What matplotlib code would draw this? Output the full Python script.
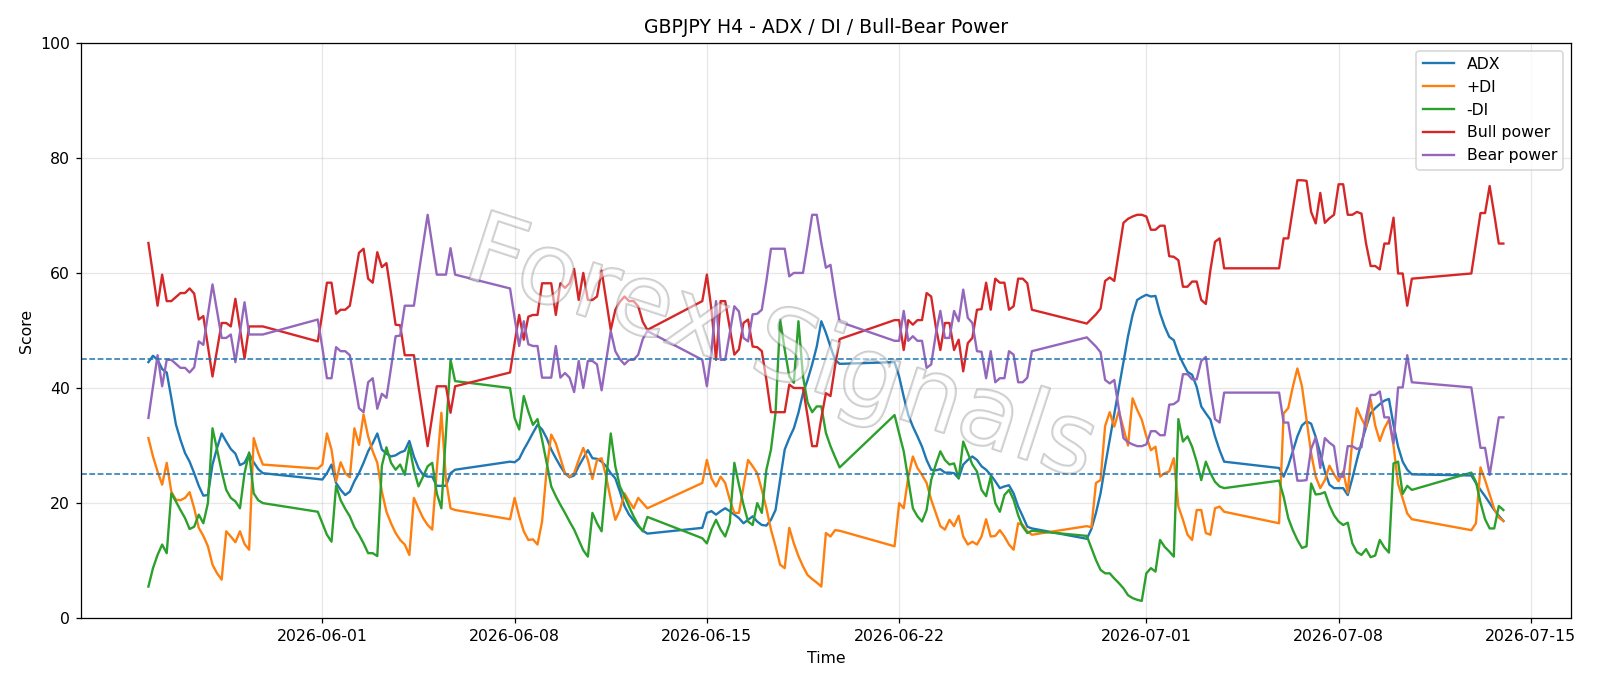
import numpy as np
import pandas as pd
import matplotlib
matplotlib.use('Agg')
import matplotlib.pyplot as plt
import matplotlib.patheffects as pe

# H4 bars, one block per trading week (straight segments = weekend gaps)
week_starts = ['2026-05-25 16:00', '2026-05-31 20:00', '2026-06-07 20:00', '2026-06-14 20:00',
               '2026-06-21 20:00', '2026-06-28 20:00', '2026-07-05 20:00', '2026-07-12 20:00']
week_bars = [26, 31, 31, 31, 31, 31, 30, 8]

adx = [
    44.5, 45.6, 44.9, 43.3, 42.7, 38.3, 33.7, 31.0, 28.7, 27.2, 25.2, 23.0, 21.3, 21.4, 26.7, 29.6, 32.1, 30.7, 29.4, 28.6, 26.6, 27.0, 28.6, 27.1, 25.9, 25.2,
    24.2, 24.1, 25.2, 26.7, 23.5, 22.3, 21.4, 22.0, 23.8, 25.2, 27.0, 29.0, 30.4, 32.1, 29.3, 28.6, 28.1, 28.3, 28.8, 29.1, 30.8, 28.1, 26.1, 24.9, 24.6, 24.6, 23.0, 23.0, 23.0, 25.2, 25.8,
    27.2, 27.1, 27.7, 29.3, 30.7, 32.2, 33.6, 32.8, 31.3, 29.3, 27.8, 26.4, 25.2, 24.5, 24.8, 26.4, 27.8, 29.2, 27.8, 27.7, 27.2, 26.4, 25.2, 24.3, 22.0, 19.5, 18.0, 17.0, 16.0, 15.2, 14.7,
    15.7, 18.3, 18.6, 18.0, 18.6, 19.1, 18.6, 18.0, 17.4, 16.5, 17.1, 17.7, 16.8, 16.2, 16.1, 17.1, 18.8, 24.1, 29.3, 31.3, 33.0, 35.7, 39.1, 41.4, 44.1, 47.2, 51.6, 49.6, 47.2, 44.9, 44.2,
    44.5, 42.0, 38.5, 35.3, 33.3, 31.6, 29.8, 27.5, 25.8, 25.7, 25.9, 25.3, 25.3, 25.2, 24.3, 26.7, 27.5, 28.1, 27.5, 26.4, 25.8, 24.9, 23.8, 22.6, 22.9, 23.1, 21.7, 19.4, 17.7, 15.9, 15.6,
    13.8, 15.5, 18.3, 21.7, 26.5, 31.0, 35.5, 40.0, 44.5, 49.0, 52.7, 55.3, 55.8, 56.2, 55.9, 56.0, 53.0, 50.7, 48.9, 48.3, 46.0, 44.3, 42.8, 42.3, 40.2, 36.8, 35.6, 34.5, 31.6, 29.2, 27.2,
    26.1, 24.6, 26.5, 29.0, 31.6, 33.5, 34.2, 33.8, 31.5, 28.6, 25.5, 23.2, 22.6, 22.6, 22.6, 21.4, 24.3, 27.5, 30.5, 33.2, 35.6, 36.5, 37.2, 37.8, 38.1, 33.6, 29.8, 27.2, 25.8, 25.0,
    24.8, 23.5, 22.3, 21.2, 20.0, 18.8, 17.8, 16.9,
]

plus_di = [
    31.3, 28.1, 25.5, 23.2, 27.0, 22.0, 20.6, 20.5, 20.9, 21.9, 19.1, 15.7, 14.3, 12.5, 9.3, 7.8, 6.7, 15.1, 14.2, 13.2, 15.1, 12.9, 11.9, 31.3, 28.7, 26.7,
    26.0, 26.7, 32.1, 29.3, 23.8, 27.1, 25.2, 24.5, 33.0, 30.1, 35.4, 31.6, 29.0, 27.0, 22.0, 18.5, 16.5, 14.8, 13.6, 12.8, 11.0, 20.9, 19.1, 17.4, 16.2, 15.4, 25.8, 35.7, 24.1, 19.1, 18.8,
    17.2, 20.9, 17.7, 15.1, 13.6, 13.7, 12.8, 16.8, 25.8, 31.9, 30.4, 27.8, 25.2, 24.6, 25.2, 27.5, 29.6, 27.5, 24.2, 27.5, 27.8, 24.6, 20.6, 17.1, 18.8, 21.7, 20.3, 19.1, 20.9, 20.0, 19.1,
    23.5, 27.5, 24.3, 22.9, 24.6, 23.5, 20.6, 18.3, 18.3, 22.9, 27.5, 26.4, 25.2, 22.3, 19.1, 15.4, 12.5, 9.3, 8.7, 15.7, 13.0, 10.8, 9.0, 7.5, 6.8, 6.2, 5.5, 14.8, 14.2, 15.3, 15.2,
    12.5, 20.0, 19.1, 24.6, 28.1, 26.1, 24.9, 23.5, 20.6, 18.3, 16.0, 15.4, 17.1, 16.0, 17.8, 14.2, 12.8, 13.3, 12.8, 14.2, 17.2, 14.2, 14.3, 15.3, 14.2, 12.8, 11.9, 16.5, 16.2, 15.1, 14.5,
    16.0, 15.8, 23.5, 24.0, 33.4, 35.8, 33.3, 36.0, 33.0, 30.0, 38.2, 36.2, 34.5, 31.6, 29.2, 29.8, 24.6, 25.2, 25.5, 27.8, 19.4, 17.1, 14.5, 13.6, 18.8, 18.8, 14.8, 14.5, 19.1, 19.4, 18.5,
    16.5, 35.6, 36.5, 40.2, 43.4, 40.3, 34.5, 28.7, 24.6, 22.6, 24.0, 26.5, 25.0, 23.8, 25.5, 21.8, 31.0, 36.5, 34.7, 33.2, 38.0, 33.5, 30.8, 33.0, 34.5, 30.0, 23.3, 20.8, 18.2, 17.2,
    15.3, 16.5, 26.2, 24.0, 21.5, 19.0, 17.5, 16.9,
]

minus_di = [
    5.5, 8.7, 11.0, 12.8, 11.3, 21.7, 20.3, 18.8, 17.4, 15.5, 15.9, 18.0, 16.5, 20.0, 33.0, 29.3, 25.5, 22.3, 20.9, 20.3, 19.1, 25.2, 28.8, 21.7, 20.5, 20.0,
    18.5, 16.5, 14.5, 13.3, 23.0, 20.5, 19.0, 17.7, 15.8, 14.5, 13.0, 11.3, 11.3, 10.8, 26.5, 29.7, 27.0, 25.8, 26.7, 24.9, 29.9, 25.8, 22.9, 24.6, 26.4, 27.0, 21.7, 19.1, 32.2, 44.9, 41.2,
    40.0, 34.8, 32.8, 38.6, 35.9, 33.6, 34.6, 31.0, 27.0, 22.9, 21.2, 19.7, 18.3, 16.8, 15.4, 13.6, 11.8, 10.7, 18.3, 16.5, 15.1, 24.1, 32.1, 26.4, 22.9, 21.2, 19.4, 17.7, 16.2, 15.1, 17.6,
    13.9, 13.0, 15.4, 17.1, 15.4, 14.2, 16.5, 27.0, 23.2, 19.7, 16.8, 16.2, 20.0, 18.3, 25.8, 29.3, 35.7, 51.9, 46.7, 42.0, 40.9, 51.6, 42.0, 37.5, 35.8, 36.8, 36.8, 32.2, 29.9, 28.0, 26.2,
    35.3, 32.1, 29.0, 24.0, 19.1, 17.7, 16.8, 18.8, 24.0, 26.7, 29.0, 27.5, 26.7, 26.9, 24.3, 30.7, 28.7, 26.7, 25.5, 22.3, 21.2, 24.6, 20.0, 18.5, 21.4, 22.3, 20.6, 17.9, 15.9, 14.8, 15.2,
    14.3, 12.2, 10.1, 8.4, 7.8, 7.8, 6.9, 6.1, 5.2, 4.0, 3.5, 3.2, 3.0, 7.8, 8.7, 8.1, 13.6, 12.4, 11.6, 10.7, 34.6, 30.7, 31.6, 29.8, 27.2, 24.0, 27.2, 25.2, 23.7, 22.9, 22.6,
    23.9, 21.1, 17.4, 15.3, 13.6, 12.2, 12.5, 23.4, 21.5, 21.6, 21.9, 19.6, 17.9, 16.8, 16.2, 16.6, 13.0, 11.5, 11.0, 12.0, 10.6, 10.9, 13.6, 12.3, 11.4, 26.9, 27.2, 21.6, 23.0, 22.3,
    25.3, 23.7, 20.1, 17.2, 15.6, 15.6, 19.5, 18.8,
]

bull_power = [
    65.2, 59.8, 54.3, 59.7, 55.1, 55.1, 55.8, 56.5, 56.5, 57.3, 56.4, 51.9, 52.5, 47.2, 42.0, 46.7, 51.3, 51.3, 50.7, 55.5, 50.3, 45.1, 50.7, 50.7, 50.7, 50.7,
    48.1, 53.0, 58.3, 58.3, 52.9, 53.6, 53.6, 54.3, 58.8, 63.5, 64.2, 59.0, 58.3, 63.6, 61.0, 61.7, 56.5, 51.0, 50.9, 45.7, 45.7, 45.7, 40.3, 35.1, 29.9, 35.1, 40.3, 40.3, 40.3, 35.7, 40.3,
    42.7, 47.8, 52.7, 48.4, 52.4, 52.7, 52.7, 58.2, 58.2, 58.2, 52.7, 58.2, 57.4, 58.2, 60.7, 55.3, 60.0, 55.3, 55.3, 55.9, 60.4, 55.3, 50.1, 53.6, 55.0, 55.9, 55.1, 55.1, 54.2, 51.5, 50.1,
    55.1, 59.7, 53.6, 44.9, 55.1, 55.1, 50.4, 45.8, 46.7, 51.3, 51.9, 47.2, 47.1, 46.4, 41.4, 35.8, 35.8, 35.8, 35.8, 40.6, 40.0, 40.0, 40.0, 35.1, 29.9, 29.9, 34.8, 39.1, 38.6, 43.8, 48.5,
    51.8, 51.8, 46.6, 51.8, 51.0, 51.8, 51.8, 56.5, 55.9, 50.7, 46.6, 51.3, 51.3, 46.6, 48.4, 42.9, 47.8, 48.7, 53.6, 53.7, 58.3, 53.6, 59.0, 58.3, 58.3, 53.6, 54.2, 59.0, 59.0, 58.2, 53.6,
    51.2, 52.0, 52.8, 53.8, 58.6, 59.2, 58.6, 63.6, 68.7, 69.4, 69.8, 70.1, 70.1, 69.8, 67.5, 67.5, 68.2, 68.2, 62.9, 62.8, 62.2, 57.6, 57.6, 58.5, 58.5, 55.3, 54.6, 60.5, 65.4, 66.0, 60.8,
    60.8, 66.0, 66.0, 71.0, 76.1, 76.1, 76.0, 70.6, 68.6, 73.9, 68.7, 69.5, 70.1, 75.4, 75.4, 70.1, 70.1, 70.6, 70.3, 65.1, 61.2, 61.2, 60.6, 65.1, 65.1, 69.6, 59.9, 59.9, 54.3, 59.0,
    59.9, 65.1, 70.4, 70.4, 75.1, 70.2, 65.1, 65.1,
]

bear_power = [
    34.8, 40.2, 45.7, 40.3, 44.9, 44.9, 44.2, 43.5, 43.5, 42.7, 43.6, 48.1, 47.5, 52.8, 58.0, 53.3, 48.7, 48.7, 49.3, 44.5, 49.7, 54.9, 49.3, 49.3, 49.3, 49.3,
    51.9, 47.0, 41.7, 41.7, 47.1, 46.4, 46.4, 45.7, 41.2, 36.5, 35.8, 41.0, 41.7, 36.4, 39.0, 38.3, 43.5, 49.0, 49.1, 54.3, 54.3, 54.3, 59.7, 64.9, 70.1, 64.9, 59.7, 59.7, 59.7, 64.3, 59.7,
    57.3, 52.2, 47.3, 51.6, 47.6, 47.3, 47.3, 41.8, 41.8, 41.8, 47.3, 41.8, 42.6, 41.8, 39.3, 44.7, 40.0, 44.7, 44.7, 44.1, 39.6, 44.7, 49.9, 46.4, 45.0, 44.1, 44.9, 44.9, 45.8, 48.5, 49.9,
    44.9, 40.3, 46.4, 55.1, 44.9, 44.9, 49.6, 54.2, 53.3, 48.7, 48.1, 52.8, 52.9, 53.6, 58.6, 64.2, 64.2, 64.2, 64.2, 59.4, 60.0, 60.0, 60.0, 64.9, 70.1, 70.1, 65.2, 60.9, 61.4, 56.2, 51.5,
    48.2, 48.2, 53.4, 48.2, 49.0, 48.2, 48.2, 43.5, 44.1, 49.3, 53.4, 48.7, 48.7, 53.4, 51.6, 57.1, 52.2, 51.3, 46.4, 46.3, 41.7, 46.4, 41.0, 41.7, 41.7, 46.4, 45.8, 41.0, 41.0, 41.8, 46.4,
    48.8, 48.0, 47.2, 46.2, 41.4, 40.8, 41.4, 36.4, 31.3, 30.6, 30.2, 29.9, 29.9, 30.2, 32.5, 32.5, 31.8, 31.8, 37.1, 37.2, 37.8, 42.4, 42.4, 41.5, 41.5, 44.7, 45.4, 39.5, 34.6, 34.0, 39.2,
    39.2, 34.0, 34.0, 29.0, 23.9, 23.9, 24.0, 29.4, 31.4, 26.1, 31.3, 30.5, 29.9, 24.6, 24.6, 29.9, 29.9, 29.4, 29.7, 34.9, 38.8, 38.8, 39.4, 34.9, 34.9, 30.4, 40.1, 40.1, 45.7, 41.0,
    40.1, 34.9, 29.6, 29.6, 24.9, 29.8, 34.9, 34.9,
]

times = pd.DatetimeIndex(np.concatenate(
    [pd.date_range(s, periods=n, freq='4h').values for s, n in zip(week_starts, week_bars)]))

# 1600x686 px at 113 dpi
fig = plt.figure(figsize=(14.163, 6.0717), dpi=113)
ax = fig.add_axes([0.0504, 0.0988, 0.9313, 0.8388])

ax.plot(times, adx, label='ADX')
ax.plot(times, plus_di, label='+DI')
ax.plot(times, minus_di, label='-DI')
ax.plot(times, bull_power, label='Bull power')
ax.plot(times, bear_power, label='Bear power')
ax.axhline(25, linestyle='--', linewidth=1)
ax.axhline(45, linestyle='--', linewidth=1)

ax.set_ylim(0, 100)
ax.set_title('GBPJPY H4 - ADX / DI / Bull-Bear Power')
ax.set_xlabel('Time')
ax.set_ylabel('Score')
ax.grid(True, alpha=0.3)
ax.legend(loc='upper right')

# watermark
fig.text(0.488, 0.488, 'Forex Signals', fontsize=63, rotation=-18, ha='center', va='center',
         color='white', alpha=0.3, zorder=10,
         path_effects=[pe.Stroke(linewidth=1.4, foreground='#555555'), pe.Normal()])

fig.savefig('out.png', dpi=113)
